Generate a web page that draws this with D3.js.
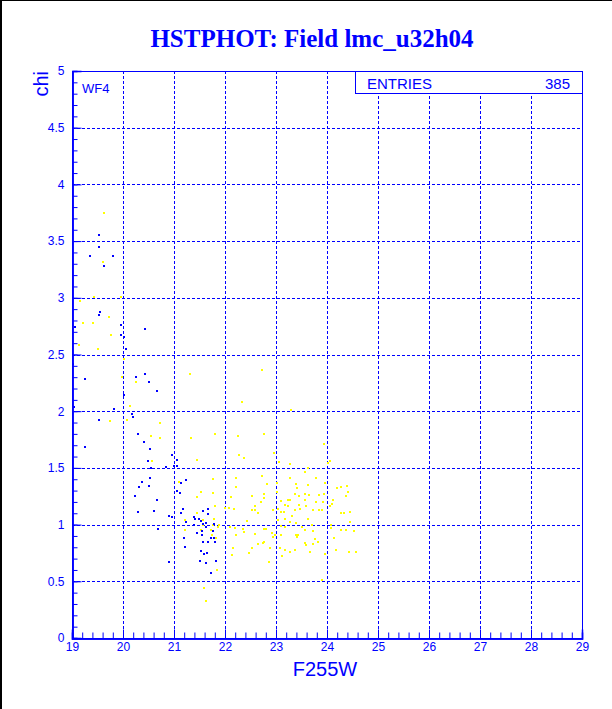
<!DOCTYPE html>
<html><head><meta charset="utf-8">
<script src="https://cdn.jsdelivr.net/npm/d3@7"></script>
<style>body{margin:0;background:#fff}svg{display:block}</style>
</head><body>
<script>
const title = "HSTPHOT: Field lmc_u32h04";
const xLabel = "F255W", yLabel = "chi";
const chipLabel = "WF4";
const statName = "ENTRIES", statValue = "385";
const xTicks = [19,20,21,22,23,24,25,26,27,28,29];
const yTicks = [0,0.5,1,1.5,2,2.5,3,3.5,4,4.5,5];
const yTickLabels = ["0","0.5","1","1.5","2","2.5","3","3.5","4","4.5","5"];

const blueX = [19.52,19.52,19.35,19.80,19.63,19.54,19.53,19.06,19.97,20.43,19.96,20.01,20.06,19.01,19.25,20.25,20.44,20.50,20.67,20.01,19.04,19.83,20.18,20.20,19.53,20.29,20.41,19.25,20.52,20.97,21.06,20.49,20.55,20.84,21.00,21.06,20.53,20.37,21.14,21.24,20.31,20.51,21.06,21.12,20.24,20.67,20.61,20.29,21.14,20.90,20.97,20.69,21.18,21.57,21.67,21.66,21.39,21.41,21.49,21.52,21.62,21.24,21.62,21.39,21.78,21.55,21.77,21.45,21.55,21.20,21.72,21.78,21.57,21.67,21.80,21.21,21.52,21.64,21.58,20.91,21.51,21.82,21.62,21.72,21.57];
const blueY = [3.55,3.45,3.37,3.37,3.28,2.875,2.85,2.745,2.76,2.725,2.675,2.65,2.545,2.42,2.285,2.30,2.33,2.26,2.18,2.14,2.04,2.02,1.975,1.95,1.925,1.795,1.73,1.685,1.67,1.61,1.57,1.565,1.50,1.51,1.52,1.52,1.415,1.38,1.37,1.39,1.33,1.34,1.30,1.28,1.25,1.22,1.12,1.11,1.10,1.075,1.065,0.96,1.14,1.12,1.14,1.095,1.07,1.05,1.05,1.03,1.01,1.02,0.98,1.00,1.005,0.94,0.945,0.93,0.91,0.885,0.88,0.885,0.85,0.85,0.85,0.805,0.77,0.75,0.74,0.67,0.68,0.68,0.66,0.57,1.005];

const yellowX = [19.63,19.60,19.16,19.43,19.96,19.73,19.21,19.41,19.76,19.13,19.51,20.01,19.99,20.25,20.14,19.75,20.07,20.72,20.54,20.72,20.57,21.09,21.80,21.33,22.25,22.27,21.45,21.76,22.22,22.22,21.52,21.76,21.45,22.11,21.80,22.00,22.07,22.18,21.45,21.21,21.79,21.57,21.56,21.76,21.88,21.87,22.10,22.19,21.21,21.52,21.72,21.75,22.22,21.82,22.15,22.14,21.84,21.58,21.62,21.31,22.73,22.33,23.29,22.76,23.95,22.37,22.97,23.05,23.27,24.06,23.63,23.56,24.01,22.72,22.82,23.27,23.78,23.39,23.63,23.01,23.97,24.20,24.27,24.39,23.02,23.41,23.38,23.45,23.57,23.65,23.84,23.94,22.76,22.52,22.76,24.41,24.37,23.09,23.23,23.28,23.57,23.78,24.11,22.71,23.18,23.45,23.59,23.92,24.09,22.59,22.52,22.59,22.94,23.03,23.09,23.16,23.24,23.37,23.47,23.73,23.84,23.91,24.27,24.34,24.45,22.65,23.32,23.18,23.63,22.43,23.03,23.28,23.40,23.71,24.08,24.46,22.35,22.76,22.80,23.09,23.18,23.50,23.56,23.72,24.08,24.27,24.37,24.52,22.38,22.59,22.92,23.10,23.39,23.44,22.94,22.99,23.41,23.76,24.13,22.76,22.74,22.64,23.57,23.58,23.73,23.82,22.52,22.88,23.07,23.18,23.37,22.47,23.28,23.67,23.96,24.17,24.44,24.56,23.11,22.86,23.90,24.06];
const yellowY = [3.745,3.32,2.975,3.01,3.01,2.83,2.78,2.78,2.67,2.58,2.55,2.46,2.30,2.26,2.05,1.91,1.925,1.90,1.78,1.76,1.565,1.38,1.80,1.76,1.78,1.61,1.57,1.40,1.41,1.335,1.29,1.28,1.24,1.24,1.165,1.15,1.15,1.135,1.105,1.04,1.045,1.04,1.00,1.00,1.00,0.975,0.98,0.97,0.95,0.95,0.95,0.91,0.91,0.88,0.79,0.735,0.60,0.44,0.33,2.33,2.36,2.08,2.01,1.795,1.71,1.59,1.635,1.55,1.53,1.565,1.495,1.465,1.54,1.43,1.36,1.41,1.41,1.36,1.35,1.365,1.365,1.32,1.335,1.34,1.29,1.32,1.27,1.25,1.27,1.26,1.265,1.27,1.27,1.25,1.235,1.29,1.25,1.21,1.22,1.22,1.22,1.20,1.22,1.20,1.17,1.17,1.165,1.20,1.18,1.165,1.13,1.13,1.13,1.14,1.11,1.11,1.165,1.13,1.14,1.13,1.13,1.13,1.105,1.105,1.11,1.10,1.075,1.05,1.05,1.035,1.04,1.02,1.01,0.995,1.00,1.02,0.965,0.965,0.965,0.99,0.98,0.98,0.95,0.94,0.97,0.95,0.95,0.94,0.935,0.92,0.925,0.91,0.91,0.91,0.895,0.905,0.89,0.875,0.88,0.85,0.835,0.83,0.84,0.82,0.83,0.85,0.795,0.79,0.79,0.78,0.78,0.75,0.76,0.755,0.745,0.78,0.76,0.76,0.72,0.67,0.51,1.16];

const W = 612, H = 709;
const BLUE = "#0000ff", YEL = "#ffff00";
const svg = d3.select("body").append("svg").attr("width", W).attr("height", H);
svg.append("rect").attr("width", W).attr("height", H).attr("fill", "#fff");
// window border (left + top)
svg.append("line").attr("x1",1).attr("x2",1).attr("y1",0).attr("y2",H).attr("stroke","#000").attr("stroke-width",2);
svg.append("line").attr("x1",0).attr("x2",W).attr("y1",0.5).attr("y2",0.5).attr("stroke","#000").attr("stroke-width",1);

const x = d3.scaleLinear().domain([19,29]).range([72,582]);
const y = d3.scaleLinear().domain([0,5]).range([638,71]);

// grid
const g = svg.append("g");
g.selectAll(".gx").data(xTicks.slice(1,-1)).join("line")
  .attr("x1", d=>Math.round(x(d))+0.5).attr("x2", d=>Math.round(x(d))+0.5)
  .attr("y1", y(5)).attr("y2", y(0))
  .attr("stroke", BLUE).attr("stroke-width",1).attr("stroke-dasharray","3,2");
g.selectAll(".gy").data(yTicks.slice(1,-1)).join("line")
  .attr("y1", d=>Math.round(y(d))+0.5).attr("y2", d=>Math.round(y(d))+0.5)
  .attr("x1", x(19)).attr("x2", x(29))
  .attr("stroke", BLUE).attr("stroke-width",1).attr("stroke-dasharray","3,2");

// points
function pts(xs, ys, col){
  svg.append("g").selectAll("rect").data(xs.map((v,i)=>[v,ys[i]])).join("rect")
    .attr("x", d=>Math.round(x(d[0]))-1).attr("y", d=>Math.round(y(d[1]))-1)
    .attr("width",2).attr("height",2).attr("fill",col);
}
pts(yellowX, yellowY, YEL);
pts(blueX, blueY, BLUE);

// frame
svg.append("rect").attr("x",x(19)+0.5).attr("y",y(5)+0.5).attr("width",x(29)-x(19)).attr("height",y(0)-y(5))
  .attr("fill","none").attr("stroke",BLUE).attr("stroke-width",1);

const font = "'Liberation Sans', Arial, sans-serif";
// x axis
const xMinor = d3.axisBottom(x).tickValues(d3.range(19,29.001,0.2)).tickSize(-6).tickFormat("");
const xg1 = svg.append("g").attr("transform",`translate(0,${y(0)+0.5})`).call(xMinor);
const xMajor = d3.axisBottom(x).tickValues(xTicks).tickSize(-9).tickPadding(4).tickFormat(d3.format("d"));
const xg2 = svg.append("g").attr("transform",`translate(0,${y(0)+0.5})`).call(xMajor);
// y axis
const yMinor = d3.axisLeft(y).tickValues(d3.range(0,5.001,0.1)).tickSize(-5).tickFormat("");
const yg1 = svg.append("g").attr("transform",`translate(${x(19)+0.5},0)`).call(yMinor);
const yMajor = d3.axisLeft(y).tickValues(yTicks).tickSize(-9).tickPadding(8).tickFormat((d,i)=>yTickLabels[i]);
const yg2 = svg.append("g").attr("transform",`translate(${x(19)+0.5},0)`).call(yMajor);
[xg1,xg2,yg1,yg2].forEach(a=>{
  a.select(".domain").attr("stroke",BLUE).attr("stroke-width",1.5);
  a.selectAll(".tick line").attr("stroke",BLUE);
  a.selectAll("text").attr("fill",BLUE).attr("font-family",font).attr("font-size",12);
});
xg2.selectAll("text").attr("dy","0.71em");

// titles
svg.append("text").attr("x",312).attr("y",47).attr("text-anchor","middle")
  .attr("font-family","'Liberation Serif','Times New Roman',serif").attr("font-weight","bold")
  .attr("font-size",25).attr("fill",BLUE).text(title);
svg.append("text").attr("x",325).attr("y",676).attr("text-anchor","middle")
  .attr("font-family",font).attr("font-size",20).attr("fill",BLUE).text(xLabel);
svg.append("text").attr("transform","translate(48,71) rotate(-90)").attr("text-anchor","end")
  .attr("font-family",font).attr("font-size",20).attr("fill",BLUE).text(yLabel);
svg.append("text").attr("x",82).attr("y",93).attr("font-family",font).attr("font-size",13).attr("fill",BLUE).text(chipLabel);

// stats box
svg.append("rect").attr("x",355.5).attr("y",71.5).attr("width",582-355).attr("height",22)
  .attr("fill","#fff").attr("stroke",BLUE).attr("stroke-width",1);
svg.append("text").attr("x",367).attr("y",89).attr("font-family",font).attr("font-size",15).attr("fill",BLUE).text(statName);
svg.append("text").attr("x",570).attr("y",89).attr("text-anchor","end").attr("font-family",font).attr("font-size",15).attr("fill",BLUE).text(statValue);
</script>
</body></html>
